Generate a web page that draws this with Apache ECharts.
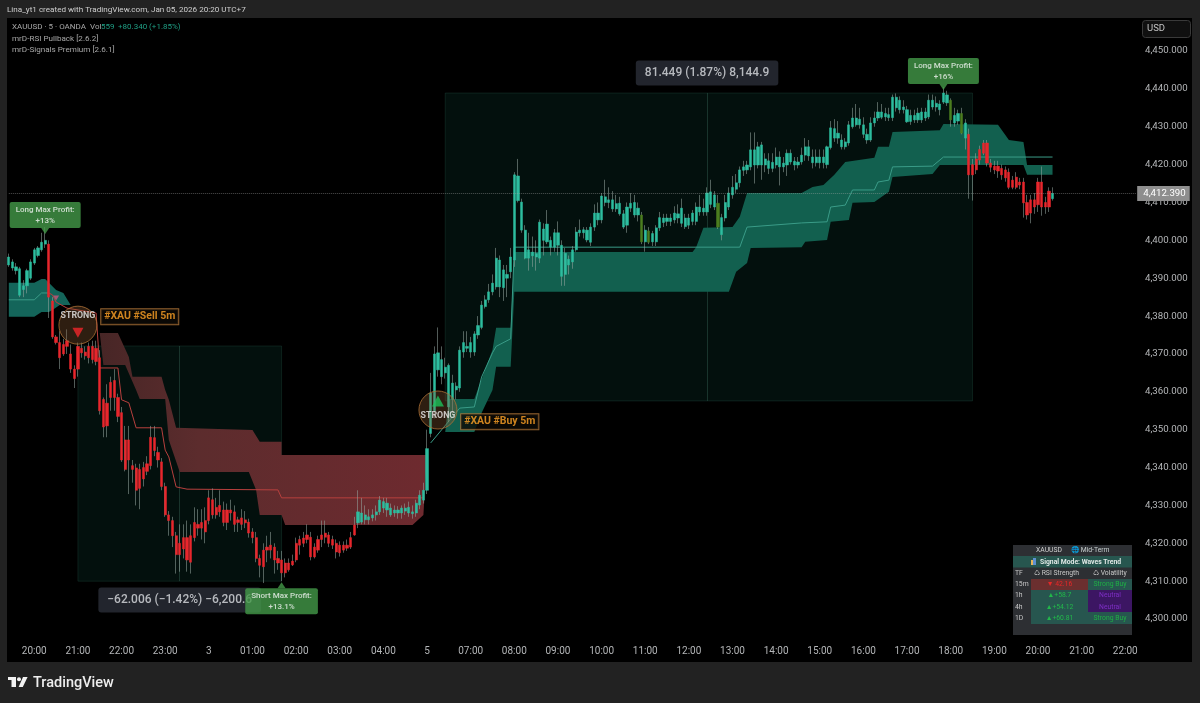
<!DOCTYPE html>
<html><head><meta charset="utf-8"><title>XAUUSD 5m</title>
<style>html,body{margin:0;padding:0;background:#222}#c{width:1200px;height:703px}</style>
<script src="https://cdn.jsdelivr.net/npm/echarts@6/dist/echarts.min.js"></script></head>
<body><div id="c"></div>
<script>
const xTickLabels=['20:00','21:00','22:00','23:00','3','01:00','02:00','03:00','04:00','5','07:00','08:00','09:00','10:00','11:00','12:00','13:00','14:00','15:00','16:00','17:00','18:00','19:00','20:00','21:00','22:00'];
// rows are [open, close, low, high]
const candlesEvening=[
[4393.5,4395.6,4393,4396.5],[4394.3,4392.7,4392,4395],[4393,4392,4391,4394],[4385.5,4392.5,4385,4393],[4387,4388,4385,4389.5],[4388,4392,4386,4392.5],[4390,4394.3,4389.5,4395],[4394,4397.5,4393.5,4398],[4396,4398,4395.5,4398.5],[4397.5,4399.5,4397,4402],[4399,4400,4398,4403.5],
[4399,4385,4379.5,4400],[4384,4374.5,4374,4385],[4374.5,4373,4372.5,4375],[4373,4369,4366,4376],[4372.5,4370,4369.5,4374],[4372,4373.5,4370,4376.5],[4370,4366,4365,4372.5],[4366,4363.5,4361,4367],[4372,4366,4364,4373],[4371.5,4370.3,4369,4373],[4370.5,4369.5,4368.5,4372],[4372,4369,4367.5,4373],[4372,4368.5,4367.5,4373.5],[4368,4371.5,4367,4373.5],[4369,4355,4354,4371],
[4358,4350.7,4348,4358.5],[4357,4351,4348,4362],[4362.5,4358.5,4355,4364],[4363,4358.5,4355,4366],[4358.5,4353.5,4352,4359.5],[4354.5,4342,4341.5,4356],[4347.3,4339.5,4339,4351],[4347.3,4342,4333,4351],[4340.5,4339.5,4336,4342],[4339.9,4334,4330,4341],[4339.5,4334.5,4329,4341],[4340,4337,4335,4341.5],[4341,4339,4338,4343],[4348,4340.5,4339.5,4351],[4347.9,4344.5,4343,4351],[4344,4342,4340,4345.5],[4341.5,4335,4334,4342.5],[4335,4327.5,4327,4336],[4327.5,4326,4322,4328.5],[4326,4322,4319,4327],[4322,4317,4312,4323],[4320,4317,4312.5,4325],[4321.5,4318.5,4316,4325],[4321.5,4315.6,4312.5,4326],[4322,4315,4312,4325]];
const candlesNight=[
[4325.5,4321.5,4320.5,4329.5],[4325,4324,4322,4329],[4325.5,4324,4321,4329],[4326,4323,4320,4329.5],[4332,4326,4325,4334],[4331.5,4327.5,4326.5,4334.5],[4329.5,4327.5,4326.5,4332],[4330,4328.3,4327,4334],[4328.8,4325.5,4324.5,4331],[4328.8,4325.5,4323.5,4330.5],[4328.8,4328,4326,4331.5],[4328.3,4325,4323,4330],[4326.2,4325.5,4323,4327],[4326.7,4325,4323.5,4329],[4326.2,4325.4,4324,4328.5],[4325.6,4322.7,4321.5,4326.5],[4323,4321.5,4320,4324],[4321.5,4316,4315,4323],[4316,4314.2,4311,4317],[4318.2,4313.8,4309.5,4320],[4319,4318.2,4315,4322],[4319.5,4318.2,4316,4323],[4319,4315.6,4312,4320],[4316,4314.8,4313,4318],[4315.6,4312.2,4310,4318],[4314.8,4312.2,4311,4316],[4314.8,4313,4312.5,4316],[4315.3,4314.3,4314,4317],[4320,4315.6,4315,4321.5],[4321,4319.5,4317,4322],[4321.4,4320,4319,4323],[4322.2,4321,4320,4325],[4321.6,4316.4,4315.5,4323],[4319,4316.4,4316,4320],[4321,4318.2,4317.5,4322],[4322.2,4321,4319,4326],[4322.7,4321.6,4320,4326],[4322.2,4320,4319,4323],[4321,4319.5,4318.5,4322],[4320,4317.7,4316,4321],[4319.5,4317.5,4316.5,4320.5],[4319.5,4318.2,4317.5,4320.5],[4319.5,4318.7,4318,4321],[4321.5,4319,4318.5,4323],[4324.8,4322.2,4322,4327],
[4325.4,4328.3,4324,4334],[4325.6,4328,4325,4332],[4326.2,4327.5,4325,4330],[4326.2,4327,4325,4329],[4326.7,4327.5,4325.8,4329],[4327.5,4328.3,4326,4330],[4328.3,4331.4,4327.5,4332.5],[4331,4329.3,4328,4332],[4330.6,4328.8,4327,4332],[4329.3,4327.5,4327,4330.5],[4328,4328.8,4327,4330],[4328,4328.8,4326.5,4329.8],[4328,4329.3,4326.5,4330],[4328.5,4329.3,4327.5,4330.5],[4328,4329.5,4327,4331],[4328.3,4327.8,4326.5,4330],[4328,4330.6,4327,4331.5],[4330.1,4332.7,4329,4334],[4331.4,4334,4330.5,4336]];
const candlesRally=[
[4334,4345,4333,4350],[4349,4359.7,4348,4365],[4355,4370,4353,4372],[4365.8,4370.3,4364,4377],[4368.5,4364,4362,4372],[4365,4366.5,4363.5,4369],[4356,4367,4352,4367.5],[4358,4362.3,4354,4364.5],[4360.5,4361.5,4358,4362.5],[4361,4371,4360,4372],[4370.5,4373,4369,4376],[4371.5,4372,4370.5,4376],[4373,4370.5,4369,4374.5],[4370.5,4375.3,4369.5,4376],[4375,4377.5,4374,4380],[4377,4382.9,4376.5,4384],[4382.5,4384.3,4382,4385.5],[4384.3,4386.4,4383.5,4388.5],[4386.4,4388.7,4385.5,4391],[4387.7,4395.3,4387,4398],[4387.7,4394.8,4385,4396],[4387.5,4392.2,4384,4393.5],[4390,4391,4385,4393.5],[4391.7,4395.6,4390,4398],[4394.8,4417.3,4393,4418],[4410.5,4417,4410,4421.5],[4402.7,4410.1,4402,4411],[4395.3,4402.7,4395,4404]];
const candlesMorning=[
[4397.5,4395.3,4392,4402],[4396.9,4395.9,4393,4401],[4396.5,4395.6,4392,4400],[4395.3,4404.8,4394,4405.5],[4400,4403,4396,4404.5],[4399.6,4404.3,4399,4408],[4400,4398.2,4396,4401],[4398.2,4402,4397,4403],[4402,4398.7,4396,4405],[4390.5,4398.7,4388,4400],[4391,4396.6,4388,4398],[4393.5,4395,4391,4396],[4394.3,4397.5,4392.5,4398.5],[4397.5,4402.2,4397,4403.5],[4402,4402.7,4401,4405.5],[4402,4402.8,4400.5,4403.5],[4400.1,4402.7,4399.5,4403.5],[4399.5,4403.5,4398.5,4404.5],[4403.5,4407.2,4402.5,4409.5],[4407.2,4405.4,4404,4410],[4405.4,4411.7,4404.5,4412.5],[4411.5,4410,4409,4416],[4410,4410.7,4408.5,4414],[4410.7,4408.3,4407.5,4413],[4408.3,4409.7,4407.5,4412],[4409.8,4407,4406.5,4411.5],[4407,4403.5,4403,4408],[4404,4408.8,4402,4410],[4408.5,4409.8,4407.5,4412.5],[4410,4406.7,4406,4412],[4406.7,4408.5,4405,4410],[4406.7,4399.6,4399,4407.5],[4399.6,4402.7,4397,4404],[4402.5,4399.5,4399,4403.5],[4399.6,4401.8,4398.5,4402.5],[4399.6,4403.3,4398.5,4404],[4403.3,4406,4402.5,4407.5],[4404.7,4405.9,4403.5,4407],[4405,4405.9,4403.8,4407],[4405,4405.9,4403.8,4407],[4405.4,4407.2,4404.5,4409],[4407,4405.9,4404.5,4409.5],[4404.5,4408.5,4403.5,4411],[4405.9,4403.6,4403,4407],[4404,4405.9,4403,4407],[4405,4407.2,4404,4408],[4405,4408.8,4404,4410],[4408.8,4407.5,4406.5,4412],[4407.5,4408.5,4406.5,4411],[4407.5,4412.5,4406.5,4414],[4409.5,4412.8,4408.5,4416],[4412,4408.8,4408,4413],[4409.8,4403.5,4403,4412],[4401.5,4406,4400,4407],[4405.9,4410,4405,4412],[4408.8,4412.5,4408,4414],[4412,4414,4411,4417],[4413.5,4415.2,4412.5,4417.5]];
const candlesAfternoon=[
[4415.2,4418.6,4414,4419.5],[4418.5,4419.4,4417,4421],[4418.6,4419.9,4417.5,4421],[4419.4,4423.9,4418.5,4428.5],[4419.9,4423.9,4415,4428.5],[4419.9,4424.7,4419,4426],[4419.9,4425.2,4416,4426],[4421.5,4419.9,4418,4423],[4421,4419,4417.5,4423],[4419,4420.6,4418,4423],[4419.9,4422,4419,4424.5],[4422,4419.4,4414.5,4423.5],[4419.4,4420.4,4418,4422],[4419.9,4423,4417,4424],[4423,4420.7,4420,4424],[4420.9,4419.9,4418.5,4422],[4419.9,4420.7,4419,4422],[4420.7,4422.5,4420,4424.5],[4422.5,4424.7,4421,4427],[4424.7,4422.3,4421,4426.5],[4422,4420.5,4419,4424],[4420.5,4422,4419.5,4424],[4422,4420.5,4419,4424],[4420.5,4422,4419,4424],[4420,4424.7,4419,4425],[4424.5,4429.7,4424,4431.5],[4429.5,4427,4426,4432],[4427,4428.3,4425.5,4431.5],[4426.5,4424.7,4424,4428],[4424.7,4426,4424,4427],[4425.7,4430.5,4425,4431.5],[4430,4432.3,4429.5,4435],[4432.3,4430.5,4430,4436],[4430.5,4432,4429.5,4435],[4430.5,4428,4427,4432.5],[4428,4426.5,4425.5,4429.5],[4426.5,4431,4426,4432.5],[4431,4432.3,4430,4434],[4432.3,4433.9,4431.5,4436.5],[4433.9,4432.5,4432,4436],[4432.6,4433.5,4431.5,4435],[4433.2,4432.4,4431.5,4435],[4432.4,4437.8,4431.5,4438.5],[4437.8,4435,4434,4438.8],[4434.5,4437,4433.5,4438],[4435.2,4434.5,4433.5,4437],[4434.5,4431.3,4431,4435.5],[4431.4,4433,4430.5,4434.5],[4433,4431.8,4431,4434.5],[4431.8,4433.6,4431,4435],[4431.8,4433.9,4431,4435],[4432.3,4433.9,4431.5,4435],[4432.6,4437,4432,4438.5],[4437,4435.2,4434.5,4438.5],[4435.2,4436.2,4434,4438],[4434.5,4436,4433,4437],[4436.5,4438.9,4436,4440.5],[4438.4,4436.3,4435.5,4439.5],[4437,4431.8,4430,4437.5],[4431,4433,4430,4435],[4431.5,4433.5,4430.5,4434.5],[4433.5,4428.3,4428,4435],[4427,4431,4424,4432]];
const candlesEvening2=[
[4428,4417.3,4411,4429.5],[4420,4417.3,4410.5,4421.5],[4421.5,4418.6,4417.5,4423],[4424,4421.2,4420,4425],[4425.7,4423,4422.5,4426.5],[4425.7,4420.4,4419.5,4426.5],[4420.4,4419.3,4418,4421.5],[4419.6,4418.6,4417.5,4421],[4419.6,4418.3,4416.5,4421],[4419,4417.3,4416,4420],[4418.6,4416.5,4415.5,4419.5],[4418,4414,4413.5,4419],[4415.9,4414,4413.5,4417],[4416.7,4414,4413.5,4418],[4415.4,4414.6,4413.5,4416.5],[4415.4,4409.9,4406,4416.5],[4410,4406.7,4405.5,4412],[4410.7,4407.2,4404.5,4412],[4410.7,4408.8,4407,4412.5],[4415.4,4409.4,4407.5,4416.5],[4415.4,4408.8,4406.5,4419.5],[4410,4408.8,4407,4411.5],[4413,4408.8,4407.5,4414],[4411,4412.39,4410.5,4414]];
const oliveBars=[174,176,195,259,262];
const redBarRanges=[[11,95],[264,286]];
const lastPrice=4412.39;
// bands: [bar index, price]
const tealCloudAUpper=[[0,4388.8],[7,4388.8],[9,4389.8],[10,4389.8],[13,4386.9],[15,4386.1],[17,4382.9]];
const tealCloudALower=[[0,4379.8],[7,4379.8],[9,4381.1],[11,4381.1],[12,4381.6],[14,4382.9],[17,4382.9]];
const redCloudUpper=[[25,4375.5],[30,4375.5],[33,4369.2],[34,4364],[42,4364],[43,4360.5],[44,4357.9],[46,4350.5],[67,4349.9],[69,4346.8],[75,4346.8],[75,4343.3],[115,4343.3]];
const redCloudLower=[[26,4367.1],[32,4367.1],[35,4360.5],[36,4358.1],[43,4358.1],[44,4347.3],[47,4338.8],[66,4338.8],[68,4334.1],[69,4327.5],[75,4327.5],[76,4324.8],[111,4324.8],[114,4327.5],[115,4343.3]];
const tealCloudBUpper=[[120,4349.4],[121,4358.1],[128,4358.1],[133,4371.1],[134,4376.9],[138,4376.9],[139,4396.9],[188,4396.9],[189,4398.2],[191,4403.3],[199,4403.5],[201,4406.2],[203,4412.5],[218,4412.5],[221,4414.1],[224,4414.6],[227,4417.3],[230,4420.7],[238,4421.8],[239,4424.7],[242,4424.7],[243,4428.6],[256,4429.1],[257,4430.7],[272,4430.5],[275,4426.5],[279,4426],[280,4419.9],[287,4419.9]];
const tealCloudBLower=[[120,4349.4],[128,4349.4],[130,4354.4],[133,4360.5],[134,4366.6],[138,4366.6],[139,4386.4],[198,4386.4],[200,4391.7],[203,4394],[204,4398],[218,4398.2],[219,4399.6],[225,4400.1],[226,4404.9],[231,4405.4],[232,4409.9],[238,4410.1],[242,4412.8],[243,4416.7],[254,4417.5],[256,4419.9],[279,4419.9],[280,4417.3],[287,4417.3]];
const tealLineA=[[0,4384.3],[7,4384.3],[9,4386.1],[11,4386.1]];
const redLine=[[11,4386.1],[12,4385.6],[13,4383.7],[16,4382.1],[24,4380.8],[25,4366.3],[30,4366.3],[31,4357.9],[33,4357.1],[35,4350.5],[42,4350.5],[43,4344.6],[44,4342.8],[46,4334.9],[49,4334.3],[74,4334.1],[75,4332],[114,4332]];
const tealLineB=[[116,4346.5],[124,4355.7],[128,4356],[130,4363.9],[133,4370.3],[134,4372],[138,4374],[139,4398.2],[201,4398.2],[203,4403.5],[218,4404.6],[225,4404.9],[226,4408.8],[230,4409.3],[232,4413.3],[238,4413.3],[239,4415.4],[242,4415.9],[243,4419.4],[254,4419.6],[257,4422],[287,4422]];
const shortBox=[[19,4372.1],[75,4310]], longBox=[[120,4438.9],[265,4357.6]];
const shortMidBar=47, longMidBar=192;
const profitLong=[{at:[10,4402.5],text:'Long Max Profit:\n+13%'},{at:[257,4440.5],text:'Long Max Profit:\n+16%'}];
const profitShort=[{at:[75,4310],text:'Short Max Profit:\n+13.1%'}];
const measures=[{at:[192,4444.2],text:'81.449 (1.87%) 8,144.9'},{at:[47,4305],text:'−62.006 (−1.42%) −6,200.6'}];
const tags=[{at:[36,4379.8],text:'#XAU #Sell 5m'},{at:[135,4352.1],text:'#XAU #Buy 5m'}];
const signalRings=[[19,4377.6],[118,4355.2]];
const strongText=[[19,4380],[118,4353.7]];
const sellMark=[[19,4375.6]], buyMark=[[118,4357.6]], pinkMark=[[13,4384.8]];
const headerText='Lina_yt1 created with TradingView.com, Jan 05, 2026 20:20 UTC+7';
const legendSymbol='XAUUSD · 5 · OANDA', legendVol='559', legendChange='+80.340 (+1.85%)';
const legendStudies=['mrD-RSI Pullback [2.6.2]','mrD-Signals Premium [2.6.1]'];
const tableRows=[['15m','▼ 42.16','Strong Buy'],['1h','▲+58.7','Neutral'],['4h','▲+54.12','Neutral'],['1D','▲+60.81','Strong Buy']];

const categories=[];
for(let i=0;i<7;i++)categories.push('');
xTickLabels.forEach(t=>{categories.push(t);for(let i=0;i<11;i++)categories.push('');});
categories.length=311;
const allCandles=[].concat(candlesEvening,candlesNight,candlesRally,candlesMorning,candlesAfternoon,candlesEvening2);
const UP='#2dbd9f',DOWN='#e8262c',OLIVE='#4b7d1f',WICK='rgba(150,165,160,0.55)',GREEN='#439a48';
const font='Roboto';
const barColor=i=>oliveBars.includes(i)?OLIVE:(redBarRanges.some(r=>i>=r[0]&&i<=r[1])?DOWN:UP);

const cloud=(upper,lower,fill)=>({type:'custom',silent:true,z:3,data:[upper[0]],clip:true,
  renderItem:(p,api)=>p.dataIndex!==0?null:({type:'polygon',shape:{points:upper.concat(lower.slice().reverse()).map(d=>api.coord(d))},style:{fill}})});
const bandLine=(data,color)=>({type:'line',data,symbol:'none',silent:true,z:4,lineStyle:{color,width:1},animation:false});

const option={
 animation:false,backgroundColor:'#222222',
 grid:{left:7,right:62,top:13.13,bottom:46.1,containLabel:false},
 xAxis:{type:'category',data:categories,boundaryGap:true,axisLine:{show:false},axisTick:{show:false},splitLine:{show:false},
   axisLabel:{inside:true,margin:0,interval:(i,v)=>v!=='',color:'#b4b6b8',fontFamily:font,fontSize:10,verticalAlign:'bottom',showMinLabel:true,showMaxLabel:true,hideOverlap:false}},
 yAxis:{type:'value',position:'right',min:4290,max:4460,interval:10,scale:true,axisLine:{show:false},axisTick:{show:false},splitLine:{show:false},
   axisLabel:{margin:7,color:'#b4b6b8',fontFamily:font,fontSize:9.7,formatter:v=>(v===4290||v===4460)?'':v.toLocaleString('en-US',{minimumFractionDigits:3,maximumFractionDigits:3})}},
 graphic:[],
 series:[
  {type:'line',data:[],z:1,silent:true,
   markArea:{silent:true,z:1,itemStyle:{color:'#03100d',borderColor:'rgba(50,110,92,0.4)',borderWidth:0.6},
     data:[[{coord:shortBox[0]},{coord:shortBox[1]}],[{coord:longBox[0]},{coord:longBox[1]}]]},
   markLine:{silent:true,symbol:'none',z:1,lineStyle:{color:'rgba(70,130,112,0.32)',type:'solid',width:1},label:{show:false},
     data:[[{coord:[shortMidBar,shortBox[0][1]]},{coord:[shortMidBar,shortBox[1][1]]}],[{coord:[longMidBar,longBox[0][1]]},{coord:[longMidBar,longBox[1][1]]}]]}},
  cloud(tealCloudAUpper,tealCloudALower,'#14655a'),
  cloud(redCloudUpper,redCloudLower,new echarts.graphic.LinearGradient(0,0,1,0,[{offset:0,color:'#472626'},{offset:0.3,color:'#5c2c2d'},{offset:1,color:'#6e2a2f'}])),
  cloud(tealCloudBUpper,tealCloudBLower,'#12604f'),
  bandLine(tealLineA,'#3a9c88'),bandLine(redLine,'#b8403e'),bandLine(tealLineB,'#3a9c88'),
  {type:'candlestick',name:'wicks',z:5,silent:true,barWidth:1,data:allCandles,
   itemStyle:{color:WICK,color0:WICK,borderColor:WICK,borderColor0:WICK,borderWidth:1}},
  {type:'candlestick',name:'bodies',z:6,silent:true,barWidth:2.7,
   data:allCandles.map((r,i)=>{const lo=Math.min(r[0],r[1]),hi=Math.max(r[0],r[1]),c=barColor(i);
     return {value:[r[0],r[1],lo,hi],itemStyle:{color:c,color0:c,borderColor:c,borderColor0:c,borderWidth:0.5}};})},
  {type:'scatter',name:'lastPriceHost',data:[],z:7,silent:true,
   markLine:{silent:true,symbol:'none',z:7,lineStyle:{color:'rgba(170,170,170,0.45)',type:'dotted',width:1},
    label:{show:true,position:'end',distance:1,formatter:()=>lastPrice.toLocaleString('en-US',{minimumFractionDigits:3}),backgroundColor:'#8e8e8e',color:'#fff',fontFamily:font,fontSize:9.7,padding:[3,4,2,6]},
    data:[[{coord:[0,lastPrice]},{coord:[310,lastPrice]}]]}},
  {type:'scatter',name:'measures',z:8,silent:true,symbolSize:1,itemStyle:{color:'transparent'},data:measures.map(o=>({value:o.at,label:{formatter:o.text}})),
   label:{show:true,position:'inside',color:'#dcdee2',fontFamily:font,fontWeight:500,fontSize:12,backgroundColor:'#2b2e38',padding:[7,9,6,9],borderRadius:3}},
  {type:'scatter',name:'rings',z:8,silent:true,symbol:'circle',symbolSize:38,data:signalRings,itemStyle:{color:'rgba(135,90,50,0.42)',borderColor:'#ad7036',borderWidth:1}},
  {type:'scatter',name:'strong',z:9,silent:true,symbolSize:1,itemStyle:{color:'transparent'},data:strongText,
   label:{show:true,position:'inside',formatter:'STRONG',color:'#eeeeee',fontFamily:font,fontWeight:700,fontSize:8.8}},
  {type:'scatter',name:'sell',z:9,silent:true,symbol:'triangle',symbolRotate:180,symbolSize:[11,10],data:sellMark,itemStyle:{color:'#f0262a'}},
  {type:'scatter',name:'buy',z:9,silent:true,symbol:'triangle',symbolSize:[12,11],data:buyMark,itemStyle:{color:'#1cc05a'}},
  {type:'scatter',name:'pink',z:5,silent:true,symbol:'triangle',symbolRotate:180,symbolSize:[6,5],data:pinkMark,itemStyle:{color:'#c9557a'}},
  {type:'scatter',name:'tags',z:9,silent:true,symbolSize:1,itemStyle:{color:'transparent'},data:tags.map(o=>({value:o.at,label:{formatter:o.text}})),
   label:{show:true,position:'inside',color:'#ffa226',fontFamily:font,fontWeight:700,fontSize:10.5,backgroundColor:'#0c0a06',borderColor:'#b5783a',borderWidth:1,padding:[2,3,2,3]}},
  {type:'scatter',name:'profitLong',z:10,silent:true,symbol:'triangle',symbolRotate:180,symbolSize:[8,6],data:profitLong.map(o=>({value:o.at,label:{formatter:o.text}})),itemStyle:{color:GREEN},
   label:{show:true,position:'top',distance:0,color:'#f2f5f2',fontFamily:font,fontWeight:500,fontSize:8,lineHeight:10.5,align:'center',backgroundColor:GREEN,padding:[3,6,2,6],borderRadius:2}},
  {type:'scatter',name:'profitShort',z:10,silent:true,symbol:'triangle',symbolSize:[8,6],symbolOffset:[0,4],data:profitShort.map(o=>({value:o.at,label:{formatter:o.text}})),itemStyle:{color:GREEN},
   label:{show:true,position:'bottom',distance:0,color:'#f2f5f2',fontFamily:font,fontWeight:500,fontSize:8,lineHeight:10.5,align:'center',backgroundColor:GREEN,padding:[3,6,2,6],borderRadius:2}}
 ]
};

function txt(x,y,text,fill,size,extra){return {type:'text',x,y,silent:true,z:50,style:Object.assign({text,fill,fontSize:size,fontFamily:font,verticalAlign:'middle'},extra||{})};}
function rect(x,y,w,h,fill,z,r){return {type:'rect',silent:true,z:z||40,shape:{x,y,width:w,height:h,r:r||0},style:{fill}};}
const g=[
 rect(7,18,1185,644,'#000000',-1),
 txt(7,9.5,headerText,'#cfcfcf',8.1),
 txt(12,27,legendSymbol,'#a8a8a8',8),txt(90,27,'Vol','#a8a8a8',8),txt(101,27,legendVol,'#1f9e84',8),txt(118,27,legendChange,'#1f9e84',8),
 txt(12,38.5,legendStudies[0],'#a8a8a8',8.1),txt(12,50,legendStudies[1],'#a8a8a8',8.1),
 {type:'rect',silent:true,z:40,shape:{x:1142.5,y:20.5,width:48,height:17,r:3},style:{fill:'#101010',stroke:'#3a3a3a',lineWidth:1}},
 txt(1147,29,'USD','#c4c4c4',9.5),
 rect(8,677,8,3,'#f2f2f2'),rect(11.5,680,4.5,7,'#f2f2f2'),
 {type:'circle',silent:true,z:40,shape:{cx:19,cy:679.3,r:2},style:{fill:'#f2f2f2'}},
 {type:'polygon',silent:true,z:40,shape:{points:[[23,677],[27.6,677],[22.8,687],[18.6,687]]},style:{fill:'#f2f2f2'}},
 txt(33,683,'TradingView','#eeeeee',14.5,{fontWeight:500}),
 rect(1013,545,119,90,'#2d2f33'),
 rect(1013,556,119,11.5,'#27564f'),
 txt(1036,550.5,'XAUUSD','#d0d0d0',6.8),txt(1071,550.5,'🌐 Mid-Term','#c8d0d0',6.8),
 rect(1031,560,4,5,'#e5b45a',41),rect(1033,558,3,7,'#5d8fd0',41),
 txt(1040,562,'Signal Mode: Waves Trend','#e0e8e6',6.8,{fontWeight:700}),
 txt(1015,573.5,'TF','#c8c8c8',6.8),txt(1034,573.5,'♺ RSI Strength','#c8c8c8',6.8),txt(1093,573.5,'♺ Volatility','#c8c8c8',6.8),
 rect(1031,579,57,11,'#6b2f2f'),rect(1088,579,44,11,'#27564f'),
 rect(1031,590,57,34,'#27564f'),rect(1088,590,44,22,'#3c1663'),rect(1088,612,44,12,'#27564f')
];
tableRows.forEach((r,i)=>{const y=584.5+i*11.2;
 g.push(txt(1015,y,r[0],'#c8c8c8',6.8),
  txt(1059.5,y,r[1],i===0?'#e62828':'#22b84a',6.8,{align:'center'}),
  txt(1110,y,r[2],r[2]==='Neutral'?'#7d2ec4':'#1fb045',6.8,{align:'center'}));});
option.graphic=g;
const chart=echarts.init(document.getElementById('c'),null,{renderer:'canvas',width:1200,height:703});
chart.setOption(option);
</script></body></html>
